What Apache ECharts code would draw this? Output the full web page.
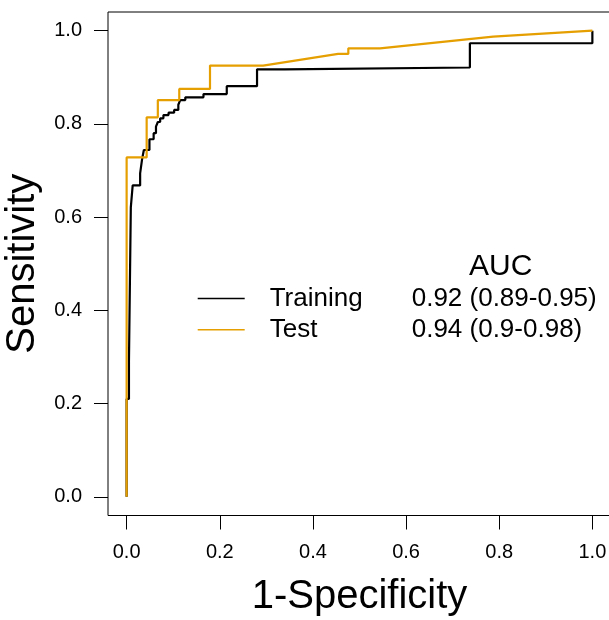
<!DOCTYPE html>
<html>
<head>
<meta charset="utf-8">
<title>ROC curves</title>
<script src="https://cdn.jsdelivr.net/npm/echarts@6/dist/echarts.min.js"></script>
<style>
  html, body { margin: 0; padding: 0; background: #fff; }
  #chart { width: 609px; height: 620px; }
</style>
</head>
<body>
<div id="chart"></div>
<script>
// ROC vertices (1-specificity, sensitivity) for each data set
const trainFpr  = [0, 0, 0.005, 0.005, 0.009, 0.009, 0.013, 0.013, 0.029, 0.029, 0.033, 0.033, 0.037, 0.037, 0.049, 0.049, 0.058, 0.058, 0.063, 0.063, 0.067, 0.067, 0.072, 0.072, 0.079, 0.079, 0.090, 0.090, 0.102, 0.102, 0.111, 0.111, 0.115, 0.115, 0.126, 0.126, 0.165, 0.165, 0.215, 0.215, 0.280, 0.280, 0.339, 0.339, 0.737, 0.737, 1, 1];
const trainSens = [0, 0.21, 0.21, 0.29, 0.29, 0.621, 0.621, 0.668, 0.668, 0.694, 0.694, 0.723, 0.723, 0.744, 0.744, 0.767, 0.767, 0.780, 0.780, 0.794, 0.794, 0.804, 0.804, 0.812, 0.812, 0.819, 0.819, 0.824, 0.824, 0.830, 0.830, 0.841, 0.841, 0.851, 0.851, 0.857, 0.857, 0.864, 0.864, 0.881, 0.881, 0.917, 0.917, 0.921, 0.921, 0.973, 0.973, 1];

const testFpr  = [0, 0, 0.043, 0.043, 0.067, 0.067, 0.113, 0.113, 0.179, 0.179, 0.293, 0.454, 0.476, 0.476, 0.544, 0.787, 1];
const testSens = [0, 0.728, 0.728, 0.814, 0.814, 0.851, 0.851, 0.875, 0.875, 0.925, 0.925, 0.950, 0.950, 0.962, 0.962, 0.987, 1];

const seriesNames = ['Training', 'Test'];
const seriesColors = ['#000000', '#E69F00'];
const aucLabels = ['0.92 (0.89-0.95)', '0.94 (0.9-0.98)'];
const tickValues = [0, 0.2, 0.4, 0.6, 0.8, 1.0];

const FONT = '"Liberation Sans", Arial, Helvetica, sans-serif';
const pairs = (xs, ys) => xs.map((x, i) => [x, ys[i]]);

const chart = echarts.init(document.getElementById('chart'), null, { renderer: 'canvas' });

const axisCommon = {
  type: 'value',
  min: -0.04,
  max: 1.04,
  splitLine: { show: false },
  axisLine: { show: false, onZero: false },
  axisTick: {
    show: true,
    length: 14,
    customValues: tickValues,
    lineStyle: { color: '#000', width: 1 }
  },
  nameLocation: 'middle',
  nameTextStyle: { fontFamily: FONT, fontSize: 40, color: '#000' }
};

chart.setOption({
  animation: false,
  backgroundColor: '#fff',
  grid: {
    left: 108, top: 12, width: 503, height: 503.5,
    outerBoundsMode: 'none',
    containLabel: false,
    show: true, borderColor: '#000', borderWidth: 1, backgroundColor: 'transparent'
  },
  title: {
    text: 'AUC',
    left: 469, top: 252,
    padding: 0,
    textStyle: { fontFamily: FONT, fontSize: 30, fontWeight: 'normal', color: '#000' }
  },
  legend: {
    data: seriesNames.map((n, i) => ({ name: n, lineStyle: { color: seriesColors[i], width: 1.4 } })),
    orient: 'vertical',
    left: 197, top: 285.5,
    padding: 0,
    itemWidth: 47, itemHeight: 26, itemGap: 5.3,
    itemStyle: { opacity: 0 },
    lineStyle: { width: 1.4 },
    selectedMode: false,
    formatter: (name) => '{n|' + name + '}{v|' + aucLabels[seriesNames.indexOf(name)] + '}',
    textStyle: {
      fontFamily: FONT, fontSize: 26, color: '#000', lineHeight: 26,
      rich: {
        n: { fontFamily: FONT, fontSize: 26, color: '#000', width: 142, lineHeight: 26, padding: [0, 0, 0, 20] },
        v: { fontFamily: FONT, fontSize: 26, color: '#000', lineHeight: 26 }
      }
    }
  },
  xAxis: Object.assign({}, axisCommon, {
    name: '1-Specificity',
    nameGap: 61,
    axisLabel: {
      customValues: tickValues,
      margin: 27,
      fontFamily: FONT, fontSize: 20, color: '#000',
      formatter: (v) => v.toFixed(1)
    }
  }),
  yAxis: Object.assign({}, axisCommon, {
    name: 'Sensitivity',
    nameGap: 51,
    axisLabel: {
      customValues: tickValues,
      margin: 26,
      fontFamily: FONT, fontSize: 20, color: '#000',
      formatter: (v) => v.toFixed(1)
    }
  }),
  series: [
    {
      name: seriesNames[0],
      type: 'line',
      data: pairs(trainFpr, trainSens),
      symbol: 'none',
      color: seriesColors[0],
      lineStyle: { color: seriesColors[0], width: 2.2 },
      z: 2
    },
    {
      name: seriesNames[1],
      type: 'line',
      data: pairs(testFpr, testSens),
      symbol: 'none',
      color: seriesColors[1],
      lineStyle: { color: seriesColors[1], width: 2.2 },
      z: 3
    }
  ]
});
</script>
</body>
</html>
